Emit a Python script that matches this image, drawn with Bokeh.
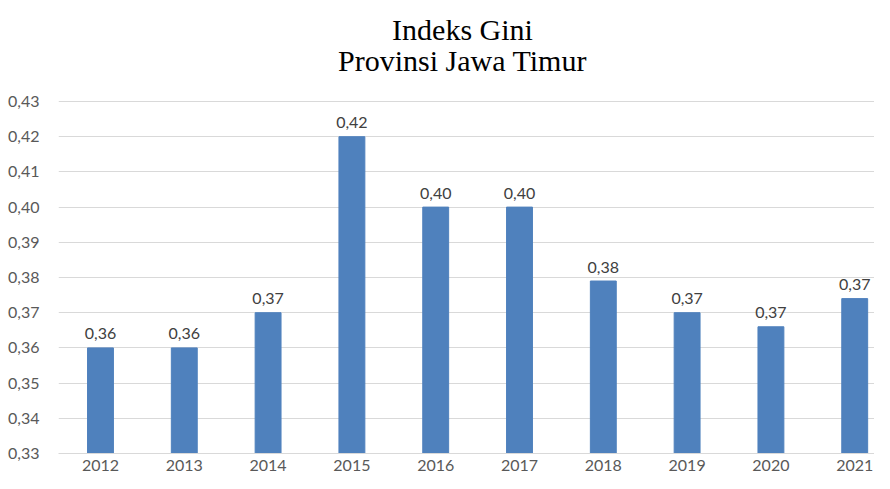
from bokeh.plotting import figure
from bokeh.models import Range1d, FixedTicker, CustomJSTickFormatter, ColumnDataSource, Label
from bokeh.core.properties import value
from bokeh.embed import file_html
from bokeh.resources import INLINE

years = ["2012", "2013", "2014", "2015", "2016", "2017", "2018", "2019", "2020", "2021"]
gini = [0.360, 0.360, 0.370, 0.420, 0.400, 0.400, 0.379, 0.370, 0.366, 0.374]
y_ticks = [0.33, 0.34, 0.35, 0.36, 0.37, 0.38, 0.39, 0.40, 0.41, 0.42, 0.43]
title_lines = ["Indeks Gini", "Provinsi Jawa Timur"]

# layout: axis area (0.33..0.43) is 352 px tall, with 101 px of title space above it
AXIS_PX, TOP_PX = 352, 101
y_lo, y_hi = y_ticks[0], y_ticks[-1]
y_end = y_hi + (y_hi - y_lo) * TOP_PX / AXIS_PX

idx = list(range(len(years)))
labels = [f"{v:.2f}".replace(".", ",") for v in gini]
src = ColumnDataSource(dict(x=idx, top=gini, lab=labels))

p = figure(width=874, height=473, output_backend="svg", toolbar_location=None,
           x_range=Range1d(-0.501, 9.236), y_range=Range1d(y_lo, y_end))
p.min_border_left = 58
p.min_border_right = 0
p.min_border_bottom = 0
p.min_border_top = 0
p.outline_line_color = None
p.background_fill_color = "white"

p.vbar(x="x", top="top", bottom=y_lo, width=0.309, source=src,
       fill_color="#4F81BD", line_color="#4F81BD")
p.text(x="x", y="top", text="lab", source=src, y_offset=-14,
       text_align="center", text_baseline="alphabetic",
       text_font=value("Lato"), text_font_size="16px", text_color="#404040")

p.xaxis.ticker = FixedTicker(ticks=idx)
p.xaxis.major_label_overrides = {i: y for i, y in zip(idx, years)}
p.xaxis.axis_line_color = "#d9d9d9"
p.xaxis.major_tick_line_color = None
p.xaxis.minor_tick_line_color = None
p.xaxis.major_label_text_font = "Lato"
p.xaxis.major_label_text_font_size = "16px"
p.xaxis.major_label_text_color = "#595959"
p.xaxis.major_label_standoff = 0
p.xgrid.grid_line_color = None

p.yaxis.ticker = FixedTicker(ticks=y_ticks)
p.yaxis.formatter = CustomJSTickFormatter(code="return tick.toFixed(2).replace('.', ',');")
p.yaxis.axis_line_color = None
p.yaxis.major_tick_line_color = None
p.yaxis.minor_tick_line_color = None
p.yaxis.major_label_text_font = "Lato"
p.yaxis.major_label_text_font_size = "16px"
p.yaxis.major_label_text_color = "#595959"
p.yaxis.major_label_standoff = 13
p.ygrid.ticker = FixedTicker(ticks=y_ticks)
p.ygrid.grid_line_color = "#d9d9d9"

for line, ys in zip(title_lines, [424, 393]):
    p.add_layout(Label(x=404, y=ys, x_units="screen", y_units="screen", text=line,
                       text_align="center", text_baseline="alphabetic",
                       text_font="Liberation Serif", text_font_size="30px",
                       text_color="#000000"))

open("out.html", "w").write(file_html(p, INLINE))
